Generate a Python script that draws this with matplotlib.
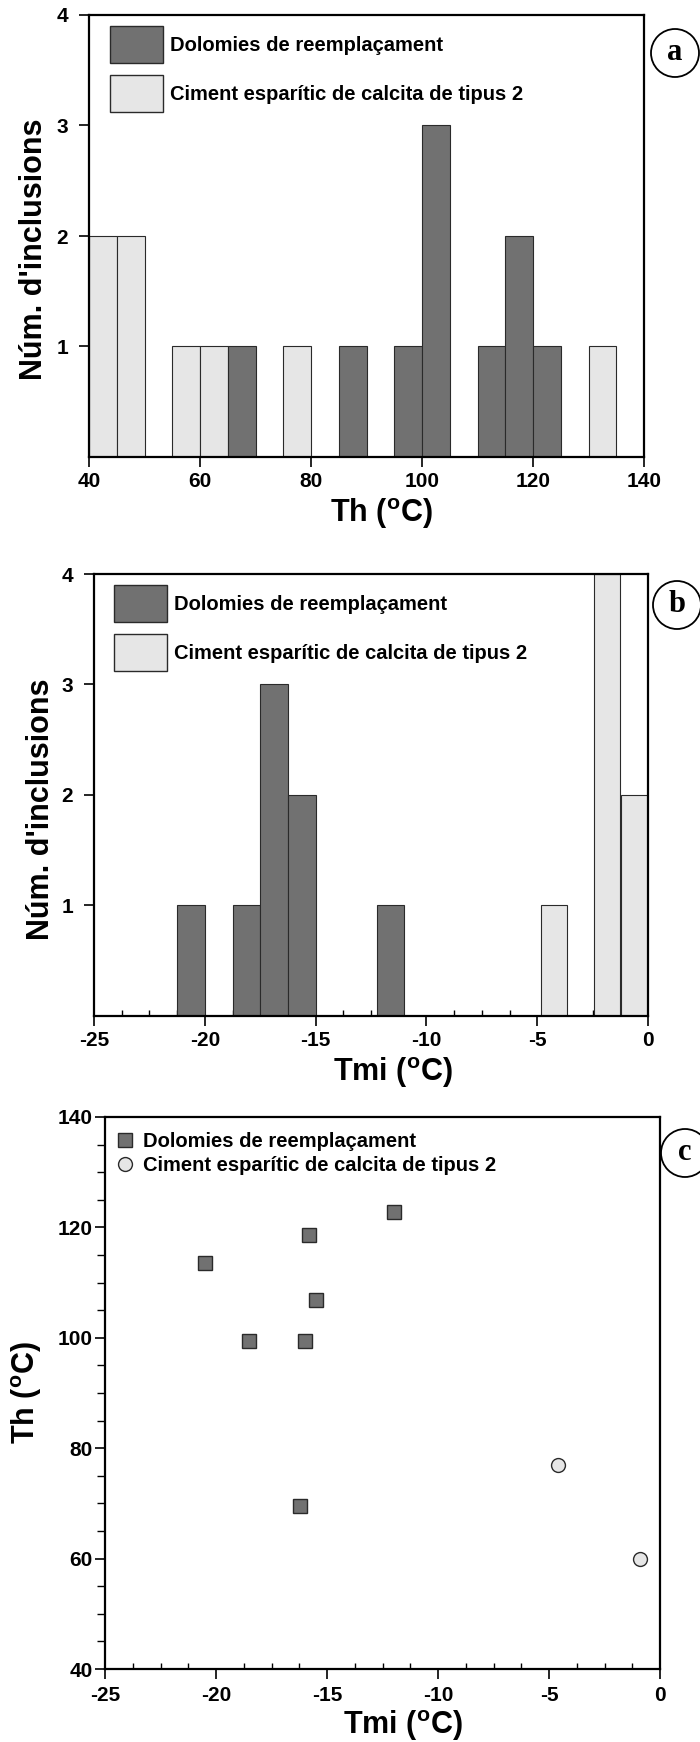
import matplotlib
matplotlib.use("Agg")
import matplotlib.pyplot as plt
from matplotlib.patches import Patch, Circle
from matplotlib.lines import Line2D
from matplotlib.ticker import MultipleLocator

# histogram a: homogenisation temperature, 5 degree bins (left edges)
th_dol_left = [65, 85, 95, 100, 110, 115, 120]
th_dol_count = [1, 1, 1, 3, 1, 2, 1]
th_cal_left = [40, 45, 55, 60, 75, 130]
th_cal_count = [2, 2, 1, 1, 1, 1]

# histogram b: ice melting temperature (left edges)
tmi_dol_left = [-21.25, -18.75, -17.5, -16.25, -12.25]
tmi_dol_count = [1, 1, 3, 2, 1]
tmi_cal_left = [-4.85, -2.45, -1.2]
tmi_cal_count = [1, 4, 2]

# scatter c: Tmi vs Th
dol_tmi = [-20.5, -15.8, -12.0, -15.5, -18.5, -16.0, -16.2]
dol_th = [113.6, 118.7, 122.8, 106.9, 99.4, 99.4, 69.6]
cal_tmi = [-4.6, -0.9]
cal_th = [76.9, 60.0]

LAB_DOL = "Dolomies de reemplaçament"
LAB_CAL = "Ciment esparític de calcita de tipus 2"
DEG = r"($^{\mathbf{o}}$C)"

DARK = "#717171"
LIGHT = "#e6e6e6"
EDGE = "#2a2a2a"

plt.rcParams["font.family"] = ["Liberation Sans", "DejaVu Sans"]
plt.rcParams["font.weight"] = "bold"
plt.rcParams["mathtext.fontset"] = "custom"
plt.rcParams["mathtext.rm"] = "Liberation Sans:bold"
plt.rcParams["mathtext.bf"] = "Liberation Sans:bold"
plt.rcParams["axes.unicode_minus"] = False

W, H = 700, 1742
fig = plt.figure(figsize=(W / 100, H / 100), dpi=100)


def px_axes(left, top, right, bottom):
    return fig.add_axes([left / W, 1 - bottom / H, (right - left) / W, (bottom - top) / H])


def style_axes(ax, ypad):
    for sp in ax.spines.values():
        sp.set_linewidth(1.6)
        sp.set_zorder(4)
    ax.tick_params(axis="both", which="major", direction="out", length=7,
                   width=1.2, labelsize=15)
    ax.tick_params(axis="x", which="major", pad=3.5)
    ax.tick_params(axis="y", which="major", pad=ypad)


def set_labels(ax, xlabel, xpos, ylabel, ypos):
    ax.set_xlabel(xlabel, fontsize=22, fontweight="bold")
    ax.xaxis.label.set_va("center")
    ax.xaxis.set_label_coords(*xpos)
    ax.set_ylabel(ylabel, fontsize=22, fontweight="bold")
    ax.yaxis.label.set_va("center")
    ax.yaxis.set_label_coords(*ypos)


def bar_legend(ax, anchor):
    handles = [Patch(facecolor=DARK, edgecolor=EDGE, linewidth=1.0, label=LAB_DOL),
               Patch(facecolor=LIGHT, edgecolor=EDGE, linewidth=1.0, label=LAB_CAL)]
    ax.legend(handles=handles, loc="upper left", bbox_to_anchor=anchor,
              frameon=False, fontsize=14.5, handlelength=2.63, handleheight=2.45,
              handletextpad=0.35, labelspacing=0.6, borderpad=0, borderaxespad=0)


def panel_letter(x, y, s):
    fig.add_artist(Circle((x / 100, (H - y) / 100), 0.24, transform=fig.dpi_scale_trans,
                          facecolor="none", edgecolor="black", linewidth=1.3))
    fig.text(x / W, 1 - y / H, s, ha="center", va="center", fontsize=22,
             family="Liberation Serif", fontweight="bold")


# --- a: Th histogram ---
ax1 = px_axes(89, 15, 644, 457)
ax1.bar(th_cal_left, th_cal_count, width=5, align="edge", color=LIGHT,
        edgecolor=EDGE, linewidth=0.8, zorder=3)
ax1.bar(th_dol_left, th_dol_count, width=5, align="edge", color=DARK,
        edgecolor=EDGE, linewidth=0.8, zorder=3)
ax1.set_xlim(40, 140)
ax1.set_ylim(0, 4)
ax1.set_xticks(range(40, 141, 20))
ax1.set_yticks([1, 2, 3, 4])
style_axes(ax1, 8)
set_labels(ax1, "Th " + DEG, (0.526, -0.127), "Núm. d'inclusions", (-0.099, 0.47))
bar_legend(ax1, (0.038, 0.975))
panel_letter(675, 53, "a")

# --- b: Tmi histogram ---
ax2 = px_axes(94, 574, 648, 1016)
ax2.bar(tmi_cal_left, tmi_cal_count, width=1.2, align="edge", color=LIGHT,
        edgecolor=EDGE, linewidth=0.8, zorder=3)
ax2.bar(tmi_dol_left, tmi_dol_count, width=1.25, align="edge", color=DARK,
        edgecolor=EDGE, linewidth=0.8, zorder=3)
ax2.set_xlim(-25, 0)
ax2.set_ylim(0, 4)
ax2.set_xticks(range(-25, 1, 5))
ax2.set_yticks([1, 2, 3, 4])
ax2.xaxis.set_minor_locator(MultipleLocator(1.25))
style_axes(ax2, 8)
ax2.tick_params(axis="x", which="minor", direction="in", length=4.5, width=1.0)
set_labels(ax2, "Tmi " + DEG, (0.54, -0.127), "Núm. d'inclusions", (-0.096, 0.468))
bar_legend(ax2, (0.036, 0.975))
panel_letter(677, 605, "b")

# --- c: Tmi vs Th ---
ax3 = px_axes(105, 1117, 660, 1669)
ax3.plot(dol_tmi, dol_th, linestyle="none", marker="s", markersize=10,
         markerfacecolor=DARK, markeredgecolor=EDGE, markeredgewidth=1.0, zorder=3)
ax3.plot(cal_tmi, cal_th, linestyle="none", marker="o", markersize=10,
         markerfacecolor=LIGHT, markeredgecolor=EDGE, markeredgewidth=1.0, zorder=3)
ax3.set_xlim(-25, 0)
ax3.set_ylim(40, 140)
ax3.set_xticks(range(-25, 1, 5))
ax3.set_yticks(range(40, 141, 20))
ax3.xaxis.set_minor_locator(MultipleLocator(1.25))
ax3.yaxis.set_minor_locator(MultipleLocator(5))
style_axes(ax3, 2)
ax3.tick_params(axis="x", which="major", pad=5)
ax3.tick_params(axis="x", which="minor", direction="in", length=4.5, width=1.0)
ax3.tick_params(axis="y", which="minor", direction="out", length=6, width=1.0)
set_labels(ax3, "Tmi " + DEG, (0.537, -0.103), "Th " + DEG, (-0.141, 0.5))
sc_handles = [Line2D([], [], linestyle="none", marker="s", markersize=10,
                     markerfacecolor=DARK, markeredgecolor=EDGE, label=LAB_DOL),
              Line2D([], [], linestyle="none", marker="o", markersize=10,
                     markerfacecolor=LIGHT, markeredgecolor=EDGE, label=LAB_CAL)]
ax3.legend(handles=sc_handles, loc="upper left", bbox_to_anchor=(0.018, 0.973),
           frameon=False, fontsize=14.5, handlelength=1.0, handletextpad=0.4,
           labelspacing=0.25, borderpad=0, borderaxespad=0)
panel_letter(685, 1153, "c")

fig.savefig("out.png", dpi=100, facecolor="white")
